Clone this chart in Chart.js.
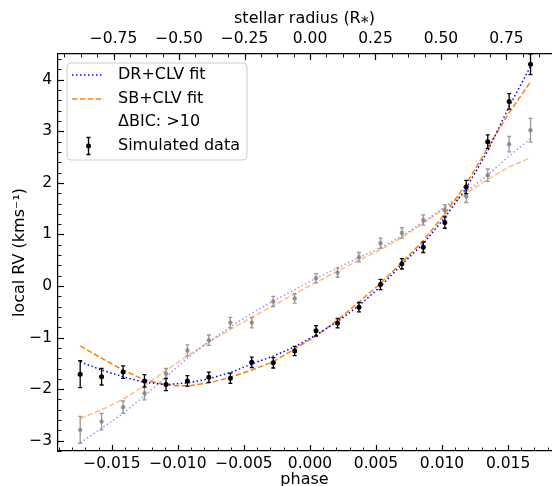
<!DOCTYPE html>
<html>
<head>
<meta charset="utf-8">
<script src="https://cdn.jsdelivr.net/npm/chart.js@4.4.0/dist/chart.umd.min.js"></script>
<style>
  html, body { margin: 0; padding: 0; background: #fff; overflow: hidden; }
</style>
</head>
<body>
<canvas id="rvChart" width="555" height="486"></canvas>
<script>
// phase of each exposure
const phase = [-0.0174, -0.01578, -0.01415, -0.01253, -0.0109, -0.00928, -0.00766, -0.00603,
  -0.00441, -0.00278, -0.00116, 0.00046, 0.00209, 0.00371, 0.00534, 0.00696, 0.00858,
  0.01021, 0.01183, 0.01346, 0.01508, 0.0167];

// simulated data (black) and the second, faded set (grey)
const rvBlack = [-1.71, -1.76, -1.67, -1.84, -1.91, -1.84, -1.77, -1.79, -1.48, -1.49, -1.26,
  -0.87, -0.72, -0.41, 0.03, 0.43, 0.75, 1.23, 1.92, 2.80, 3.58, 4.30];
const errBlack = [0.26, 0.16, 0.12, 0.12, 0.12, 0.10, 0.10, 0.10, 0.10, 0.10, 0.09,
  0.10, 0.09, 0.09, 0.10, 0.10, 0.10, 0.11, 0.13, 0.13, 0.15, 0.20];
const rvGrey = [-2.79, -2.63, -2.35, -2.08, -1.70, -1.25, -1.05, -0.71, -0.71, -0.30, -0.24,
  0.15, 0.26, 0.56, 0.83, 1.03, 1.28, 1.47, 1.74, 2.15, 2.75, 3.02];
const errGrey = [0.26, 0.16, 0.12, 0.13, 0.10, 0.11, 0.10, 0.10, 0.10, 0.10, 0.09,
  0.09, 0.09, 0.09, 0.10, 0.10, 0.10, 0.11, 0.12, 0.12, 0.15, 0.23];

// fits
const drBlack = [-1.47, -1.63, -1.76, -1.87, -1.91, -1.88, -1.80, -1.68, -1.51, -1.36, -1.18,
  -0.95, -0.69, -0.38, -0.01, 0.42, 0.82, 1.33, 1.90, 2.62, 3.48, 4.26];
const sbBlack = [-1.16, -1.40, -1.63, -1.82, -1.92, -1.94, -1.88, -1.77, -1.63, -1.47, -1.22,
  -0.97, -0.66, -0.31, 0.05, 0.46, 0.88, 1.40, 1.98, 2.68, 3.36, 3.96];
const drGrey = [-3.04, -2.76, -2.47, -2.13, -1.76, -1.40, -1.08, -0.79, -0.53, -0.29, -0.07,
  0.15, 0.35, 0.55, 0.74, 0.97, 1.24, 1.53, 1.83, 2.15, 2.52, 2.86];
const sbGrey = [-2.57, -2.40, -2.20, -1.93, -1.64, -1.35, -1.09, -0.84, -0.61, -0.38, -0.15,
  0.07, 0.29, 0.50, 0.70, 0.94, 1.22, 1.51, 1.79, 2.07, 2.31, 2.49];

const xy = (ys) => phase.map((p, i) => ({x: p, y: ys[i]}));
const FONT = 'DejaVu Sans';

const fmt = (v, d) => {
  if (Math.abs(v) < 1e-9) v = 0;
  return v.toFixed(d).replace('-', '\u2212');
};

// error bars drawn right after their scatter dataset
const errorBars = {
  id: 'errorBars',
  afterDatasetDraw(chart, args) {
    const ds = chart.data.datasets[args.index];
    if (!ds.errors) return;
    const {ctx} = chart;
    const ys = chart.scales.y;
    const meta = args.meta;
    ctx.save();
    ctx.strokeStyle = ds.backgroundColor;
    ctx.lineWidth = 1.3;
    meta.data.forEach((pt, i) => {
      const v = ds.data[i].y, e = ds.errors[i];
      const x = pt.x;
      const y1 = ys.getPixelForValue(v - e), y2 = ys.getPixelForValue(v + e);
      ctx.beginPath();
      ctx.moveTo(x, y1); ctx.lineTo(x, y2);
      ctx.moveTo(x - 2, y1); ctx.lineTo(x + 2, y1);
      ctx.moveTo(x - 2, y2); ctx.lineTo(x + 2, y2);
      ctx.stroke();
    });
    ctx.restore();
  }
};

// matplotlib-like inward ticks with minors
const innerTicks = {
  id: 'innerTicks',
  afterDatasetsDraw(chart) {
    const {ctx, chartArea: a, scales} = chart;
    ctx.save();
    ctx.strokeStyle = '#000';
    const run = (scale, step, n, draw) => {
      const first = Math.ceil(scale.min / step - 1e-6);
      for (let i = first; i * step <= scale.max + 1e-9; i++) {
        const major = i % n === 0;
        ctx.lineWidth = major ? 1.2 : 0.9;
        draw(scale.getPixelForValue(i * step), major ? 6 : 3.5);
      }
    };
    run(scales.x, 0.001, 5, (px, len) => {
      px = Math.round(px) + 0.5;
      ctx.beginPath(); ctx.moveTo(px, a.bottom); ctx.lineTo(px, a.bottom - len); ctx.stroke();
    });
    run(scales.x2, 0.0625, 4, (px, len) => {
      px = Math.round(px) + 0.5;
      ctx.beginPath(); ctx.moveTo(px, a.top); ctx.lineTo(px, a.top + len); ctx.stroke();
    });
    run(scales.y, 0.2, 5, (py, len) => {
      py = Math.round(py) + 0.5;
      ctx.beginPath(); ctx.moveTo(a.left, py); ctx.lineTo(a.left + len, py); ctx.stroke();
    });
    ctx.restore();
  }
};

// legend box in the upper left corner
const boxLegend = {
  id: 'boxLegend',
  afterDraw(chart) {
    const {ctx} = chart;
    ctx.save();
    const bx = 67, by = 63, bw = 180, bh = 97;
    ctx.beginPath();
    ctx.roundRect(bx, by, bw, bh, 4);
    ctx.fillStyle = 'rgba(255,255,255,0.8)';
    ctx.fill();
    ctx.strokeStyle = '#cccccc';
    ctx.lineWidth = 1;
    ctx.stroke();

    const x0 = 72, x1 = 104, tx = 118;
    const rows = [75, 99, 122, 146];
    ctx.lineWidth = 1.5;
    ctx.strokeStyle = 'blue';
    ctx.setLineDash([1.5, 2.5]);
    ctx.beginPath(); ctx.moveTo(x0, rows[0]); ctx.lineTo(x1, rows[0]); ctx.stroke();
    ctx.strokeStyle = '#ff7f0e';
    ctx.setLineDash([5.5, 2.4]);
    ctx.beginPath(); ctx.moveTo(x0, rows[1]); ctx.lineTo(x1, rows[1]); ctx.stroke();
    ctx.setLineDash([]);
    const ex = 88.5;
    ctx.strokeStyle = '#000';
    ctx.lineWidth = 1.3;
    ctx.beginPath();
    ctx.moveTo(ex, rows[3] - 8.5); ctx.lineTo(ex, rows[3] + 8.5);
    ctx.moveTo(ex - 2, rows[3] - 8.5); ctx.lineTo(ex + 2, rows[3] - 8.5);
    ctx.moveTo(ex - 2, rows[3] + 8.5); ctx.lineTo(ex + 2, rows[3] + 8.5);
    ctx.stroke();
    ctx.fillStyle = '#000';
    ctx.beginPath(); ctx.arc(ex, rows[3], 2.5, 0, Math.PI * 2); ctx.fill();

    ctx.font = '16px "' + FONT + '"';
    ctx.textBaseline = 'middle';
    ctx.fillText('DR+CLV fit', tx, rows[0]);
    ctx.fillText('SB+CLV fit', tx, rows[1]);
    ctx.fillText('\u0394BIC: >10', tx, rows[2]);
    ctx.fillText('Simulated data', tx, rows[3]);
    ctx.restore();
  }
};

const tickFont = {family: FONT, size: 15.5};
const titleFont = {family: FONT, size: 16, lineHeight: 1};

new Chart(document.getElementById('rvChart'), {
  data: {
    datasets: [
      {type: 'scatter', data: xy(rvBlack), errors: errBlack, backgroundColor: '#000',
        borderColor: '#000', pointRadius: 2.5, borderWidth: 0, order: 0},
      {type: 'line', data: xy(drBlack), borderColor: 'blue', borderWidth: 1.5,
        borderDash: [1.5, 2.5], pointRadius: 0, fill: false, order: 1},
      {type: 'line', data: xy(sbBlack), borderColor: '#ff7f0e', borderWidth: 1.5,
        borderDash: [5.5, 2.4], pointRadius: 0, fill: false, order: 2},
      {type: 'scatter', data: xy(rvGrey), errors: errGrey, backgroundColor: 'rgba(128,128,128,0.8)',
        borderColor: 'rgba(128,128,128,0.8)', pointRadius: 2.2, borderWidth: 0, order: 3},
      {type: 'line', data: xy(drGrey), borderColor: 'rgba(0,0,255,0.4)', borderWidth: 1.5,
        borderDash: [1.5, 2.5], pointRadius: 0, fill: false, order: 4},
      {type: 'line', data: xy(sbGrey), borderColor: 'rgba(255,127,14,0.5)', borderWidth: 1.5,
        borderDash: [5.5, 2.4], pointRadius: 0, fill: false, order: 5}
    ]
  },
  options: {
    responsive: false,
    animation: false,
    layout: {padding: 0},
    plugins: {legend: {display: false}, tooltip: {enabled: false}},
    scales: {
      x: {
        type: 'linear', position: 'bottom',
        min: -0.01908, max: 0.01825,
        afterFit: (s) => { s.height = 35; },
        grid: {display: false, drawTicks: false},
        border: {display: true, color: '#000', width: 1.2},
        ticks: {stepSize: 0.005, includeBounds: false, autoSkip: false, maxRotation: 0,
          padding: 4, color: '#000', font: tickFont, callback: (v) => fmt(v, 3)},
        title: {display: true, text: 'phase', color: '#000', font: titleFont,
          padding: {top: 0, bottom: -2}}
      },
      x2: {
        type: 'linear', position: 'top',
        min: -0.962, max: 0.920,
        afterFit: (s) => { s.height = 54; },
        grid: {display: false, drawTicks: false},
        border: {display: true, color: '#000', width: 1.2},
        ticks: {stepSize: 0.25, includeBounds: false, autoSkip: false, maxRotation: 0,
          padding: 6, color: '#000', font: tickFont, callback: (v) => fmt(v, 2)},
        title: {display: true, text: 'stellar radius (R\u204E)', color: '#000', font: titleFont,
          padding: {top: 11, bottom: 0}}
      },
      y: {
        type: 'linear', position: 'left',
        min: -3.2, max: 4.5,
        afterFit: (s) => { s.width = 58; },
        grid: {display: false, drawTicks: false},
        border: {display: true, color: '#000', width: 1.2},
        ticks: {stepSize: 1, includeBounds: false, autoSkip: false, padding: 6,
          color: '#000', font: tickFont, callback: (v) => fmt(v, 0)},
        title: {display: true, text: 'local RV (kms\u207B\u00B9)', color: '#000', font: titleFont,
          padding: {top: 12, bottom: 0}}
      }
    }
  },
  plugins: [errorBars, innerTicks, boxLegend]
});
</script>
</body>
</html>
